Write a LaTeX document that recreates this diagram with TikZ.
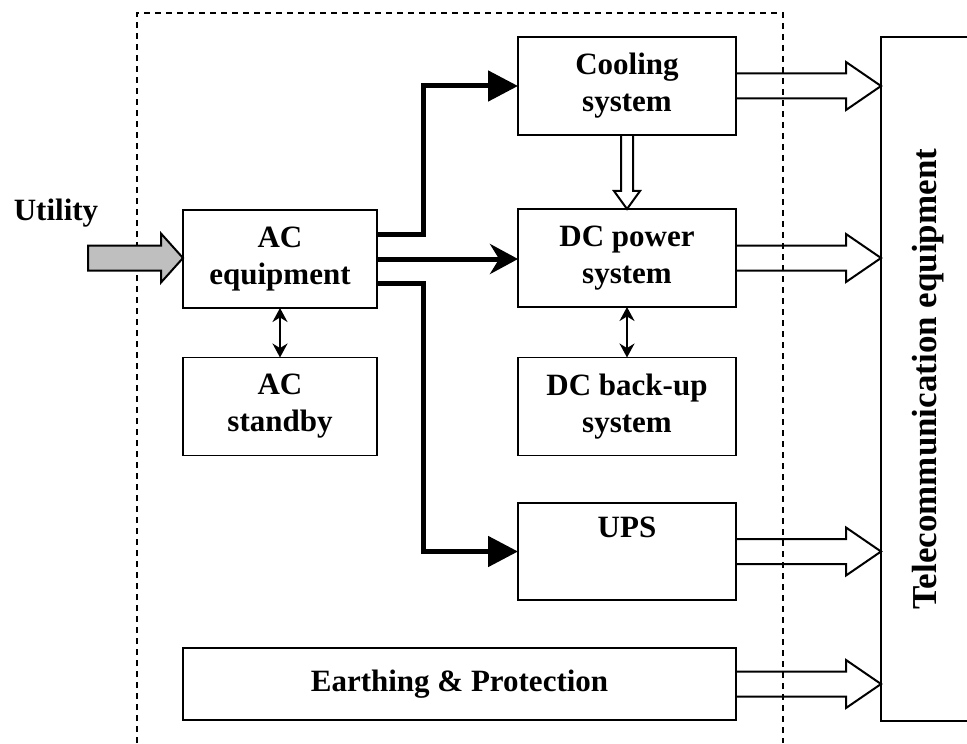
\documentclass[tikz,border=0pt]{standalone}
\usepackage{fontspec}
\setmainfont{Liberation Serif}
\usepackage{graphicx}
\usetikzlibrary{arrows.meta,calc}

\tikzset{
  unit/.style={draw, line width=0.7pt, inner sep=0pt, outer sep=0pt, align=center,
    font=\bfseries\fontsize{15.5}{18.5}\selectfont},
  frame/.style={line width=1pt, dash pattern=on 3pt off 2.5pt},
  feed/.style={line width=2.5pt},
  bothway/.style={line width=1pt, {Stealth[length=7pt,width=7.5pt]}-{Stealth[length=7pt,width=7.5pt]}},
  hollow/.style={draw, line width=1pt, line join=miter},
  utility/.style={draw, line width=1pt, fill=black!25, line join=miter}
}

% wide open arrow from a box edge to the x of another edge
\newcommand{\hollowto}[2]{%
  \draw[hollow] let \p1=(#1), \p2=(#2) in
    (\x1,\y1+6.25pt) -- (\x2-17.5pt,\y1+6.25pt) -- (\x2-17.5pt,\y1+12pt)
    -- (\x2,\y1) -- (\x2-17.5pt,\y1-12pt) -- (\x2-17.5pt,\y1-6.25pt) -- (\x1,\y1-6.25pt);}

\begin{document}
\begin{tikzpicture}[x=0.5pt, y=-0.5pt]
  \useasboundingbox (0,0) rectangle (967,743);
  % dashed outline of the power plant
  \draw[frame] (137,743) |- (783,13) -- (783,743);

  \node[unit, minimum width=109pt, minimum height=49pt] (cool) at (627,86) {Cooling\\system};
  \node[unit, minimum width=109pt, minimum height=49pt] (dcpow) at (627,258) {DC power\\system};
  \node[unit, minimum width=109pt, minimum height=49pt] (dcback) at (627,406.5) {DC back-up\\system};
  \node[unit, minimum width=109pt, minimum height=48.5pt] (ups) at (627,551.5) {UPS\\\strut};
  \node[unit, minimum width=97pt, minimum height=49pt] (acequ) at (280,259) {AC\\equipment};
  \node[unit, minimum width=97pt, minimum height=49pt] (acstb) at (280,406.5) {AC\\standby};
  \node[unit, minimum width=276.5pt, minimum height=36pt] (earth) at (459.5,684) {Earthing \& Protection};
  \node[unit, minimum width=47pt, minimum height=342pt, font=\bfseries\fontsize{17.5}{20}\selectfont]
    (tele) at (928,379) {\rotatebox{90}{Telecommunication equipment}};

  \node[font=\bfseries\fontsize{15.5}{18.5}\selectfont] (utiltext) at (56,213) {Utility};
  \coordinate (utilstart) at (88,258);

  % utility feed
  \draw[utility] let \p1=(utilstart), \p2=(acequ.west) in
    (\x1,\y1+6.25pt) -- (\x2-11pt,\y1+6.25pt) -- (\x2-11pt,\y1+12.25pt) -- (\x2,\y1)
    -- (\x2-11pt,\y1-12.25pt) -- (\x2-11pt,\y1-6.25pt) -- (\x1,\y1-6.25pt) -- cycle;

  % AC distribution
  \draw[feed, -{Triangle[length=15pt,width=15pt]}] ([yshift=12.5pt]acequ.east) -- ++(23pt,0) |- (cool.west);
  \draw[feed, -{Stealth[length=14pt,width=15pt]}] (acequ.east) -- (acequ.east -| dcpow.west);
  \draw[feed, -{Triangle[length=15pt,width=15pt]}] ([yshift=-12pt]acequ.east) -- ++(23pt,0) |- (ups.west);

  \draw[bothway] (acequ.south) -- (acstb.north);
  \draw[bothway] (dcpow.south) -- (dcback.north);

  % cooling to DC power
  \draw[hollow] let \p1=(cool.south), \p2=(dcpow.north) in
    (\x1-3pt,\y1) -- (\x1-3pt,\y2+9pt) -- (\x1-6.5pt,\y2+9pt) -- (\x1,\y2)
    -- (\x1+6.5pt,\y2+9pt) -- (\x1+3pt,\y2+9pt) -- (\x1+3pt,\y1);

  % supplies to the load
  \hollowto{cool.east}{tele.west}
  \hollowto{dcpow.east}{tele.west}
  \hollowto{ups.east}{tele.west}
  \hollowto{earth.east}{tele.west}
\end{tikzpicture}
\end{document}
